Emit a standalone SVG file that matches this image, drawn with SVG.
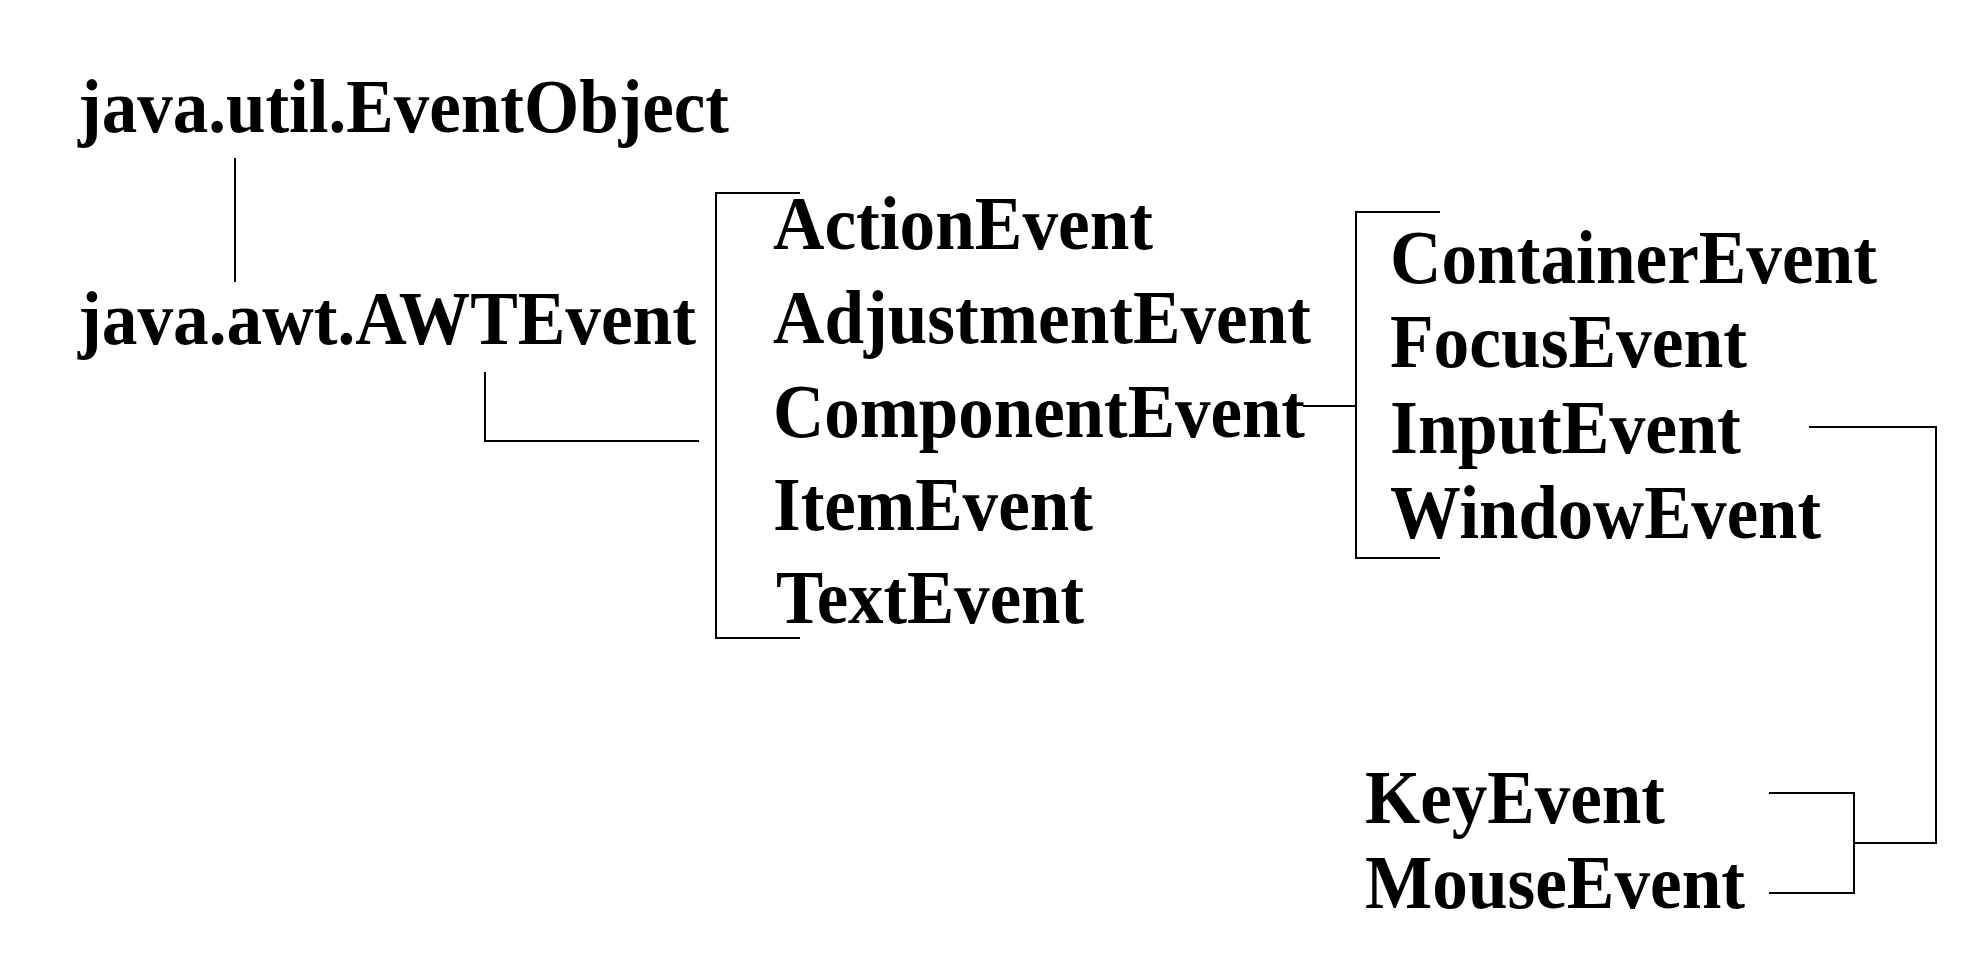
<svg xmlns="http://www.w3.org/2000/svg" width="1981" height="966" viewBox="0 0 1981 966">
<style>
text { font-family: "Liberation Serif", "Times New Roman", serif; font-weight: bold; font-size: 76px; fill: #000; }
.ln { fill: none; stroke: #000; stroke-width: 2; }
</style>
<rect width="1981" height="966" fill="#fff"/>
<g id="connectors">
<path class="ln" d="M235,158 V282"/>
<path class="ln" d="M485,372 V441 H699"/>
<path class="ln" d="M800,193 H716 V638 H800"/>
<path class="ln" d="M1303,406 H1356"/>
<path class="ln" d="M1440,212 H1356 V558 H1440"/>
<path class="ln" d="M1809,427 H1936 V843 H1854"/>
<path class="ln" d="M1769,793 H1854 V893 H1769"/>
</g>
<g id="EventObject"><text x="78" y="132" textLength="651" lengthAdjust="spacingAndGlyphs">java.util.EventObject</text></g>
<g id="AWTEvent"><text x="78" y="344" textLength="618" lengthAdjust="spacingAndGlyphs">java.awt.AWTEvent</text></g>
<g id="ActionEvent"><text x="773" y="249" textLength="380" lengthAdjust="spacingAndGlyphs">ActionEvent</text></g>
<g id="AdjustmentEvent"><text x="773" y="343" textLength="538" lengthAdjust="spacingAndGlyphs">AdjustmentEvent</text></g>
<g id="ComponentEvent"><text x="773" y="437" textLength="532" lengthAdjust="spacingAndGlyphs">ComponentEvent</text></g>
<g id="ItemEvent"><text x="773" y="530" textLength="320" lengthAdjust="spacingAndGlyphs">ItemEvent</text></g>
<g id="TextEvent"><text x="776" y="623" textLength="308" lengthAdjust="spacingAndGlyphs">TextEvent</text></g>
<g id="ContainerEvent"><text x="1390" y="283" textLength="487" lengthAdjust="spacingAndGlyphs">ContainerEvent</text></g>
<g id="FocusEvent"><text x="1390" y="367" textLength="357" lengthAdjust="spacingAndGlyphs">FocusEvent</text></g>
<g id="InputEvent"><text x="1390" y="453" textLength="351" lengthAdjust="spacingAndGlyphs">InputEvent</text></g>
<g id="WindowEvent"><text x="1390" y="538" textLength="431" lengthAdjust="spacingAndGlyphs">WindowEvent</text></g>
<g id="KeyEvent"><text x="1365" y="823" textLength="300" lengthAdjust="spacingAndGlyphs">KeyEvent</text></g>
<g id="MouseEvent"><text x="1365" y="908" textLength="380" lengthAdjust="spacingAndGlyphs">MouseEvent</text></g>
</svg>
